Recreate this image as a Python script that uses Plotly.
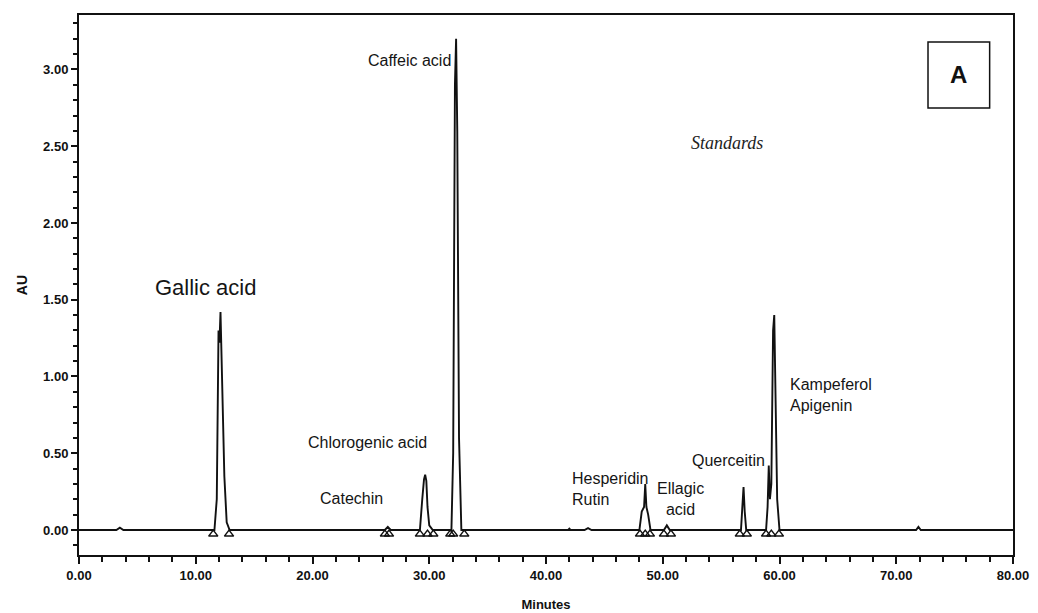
import plotly.graph_objects as go

# Chromatogram trace (retention time in minutes, absorbance in AU)
time_min = [0.0, 3.2, 3.5, 3.8,
            11.6, 11.8, 11.95, 12.03, 12.12, 12.25, 12.45, 12.65, 12.9,
            26.2, 26.45, 26.7,
            29.2, 29.4, 29.55, 29.65, 29.75, 29.85, 30.0, 30.3,
            31.9, 32.05, 32.2, 32.3, 32.4, 32.55, 32.75,
            41.9, 42.0, 42.1, 43.3, 43.6, 43.9,
            48.0, 48.2, 48.4, 48.5, 48.6, 48.75, 48.95,
            50.1, 50.35, 50.6,
            56.7, 56.82, 56.92, 57.02, 57.15,
            58.85, 58.98, 59.08, 59.18, 59.3, 59.45, 59.55, 59.65, 59.8, 60.0,
            71.7, 71.9, 72.1, 80.0]
au = [0.0, 0.0, 0.015, 0.0,
      0.0, 0.2, 1.30, 1.22, 1.42, 1.0, 0.35, 0.05, 0.0,
      0.0, 0.02, 0.0,
      0.0, 0.2, 0.33, 0.36, 0.32, 0.15, 0.03, 0.0,
      0.0, 0.5, 2.9, 3.2, 2.6, 0.6, 0.0,
      0.0, 0.008, 0.0, 0.0, 0.012, 0.0,
      0.0, 0.12, 0.15, 0.30, 0.15, 0.10, 0.0,
      0.0, 0.03, 0.0,
      0.0, 0.15, 0.28, 0.12, 0.0,
      0.0, 0.15, 0.42, 0.2, 0.3, 1.30, 1.40, 0.9, 0.2, 0.0,
      0.0, 0.02, 0.0, 0.0]

# Integration markers (peak start/end)
marker_times = [11.5, 12.85, 26.2, 26.55, 29.2, 29.85, 30.35, 31.8, 32.05, 33.0,
                48.05, 48.5, 48.9, 50.1, 50.7, 56.6, 57.2, 58.85, 59.3, 59.95]
marker_au = [-0.027] * len(marker_times)

# Peak labels: (text, x, y, font size, anchor)
labels = [
    ("Gallic acid", 10.8, 1.58, 22, "center"),
    ("Caffeic acid", 28.35, 3.06, 16, "center"),
    ("Chlorogenic acid", 24.67, 0.567, 16, "center"),
    ("Catechin", 23.3, 0.208, 16, "center"),
    ("Hesperidin<br>Rutin", 42.05, 0.267, 16, "left"),
    ("Ellagic<br>acid", 51.56, 0.205, 16, "center"),
    ("Querceitin", 55.6, 0.45, 16, "center"),
    ("Kampeferol<br>Apigenin", 60.73, 0.88, 16, "left"),
]

x_ticks = [0, 10, 20, 30, 40, 50, 60, 70, 80]
y_ticks = [0.0, 0.5, 1.0, 1.5, 2.0, 2.5, 3.0]

FONT = "Liberation Sans, Arial, sans-serif"

fig = go.Figure()
fig.add_trace(go.Scatter(x=time_min, y=au, mode="lines",
                         line=dict(color="#111111", width=1.9),
                         showlegend=False, hoverinfo="skip"))
fig.add_trace(go.Scatter(x=marker_times, y=marker_au, mode="markers",
                         marker=dict(symbol="triangle-up-open", size=8,
                                     color="#111111", line=dict(width=1.5, color="#111111")),
                         showlegend=False, hoverinfo="skip"))

for text, x, y, size, anchor in labels:
    fig.add_annotation(x=x, y=y, text=text, showarrow=False, align=anchor, xanchor=anchor,
                       font=dict(family=FONT, size=size, color="#151515"))

fig.add_annotation(x=55.5, y=2.52, text="<i>Standards</i>", showarrow=False,
                   font=dict(family="Liberation Serif, Times New Roman, serif", size=18, color="#222222"))

# Panel letter box
fig.add_shape(type="rect", xref="paper", yref="paper", x0=0.909, x1=0.975, y0=0.828, y1=0.95,
              line=dict(color="#111111", width=1.5), fillcolor="white")
fig.add_annotation(xref="paper", yref="paper", x=0.942, y=0.889, xanchor="center", yanchor="middle",
                   text="<b>A</b>", showarrow=False,
                   font=dict(family=FONT, size=24, color="#111111"))

fig.update_layout(
    width=1038, height=613,
    margin=dict(l=79, r=25, t=15, b=58, autoexpand=False),
    paper_bgcolor="white", plot_bgcolor="white",
    font=dict(family=FONT, color="#111111"),
)
fig.update_xaxes(range=[0, 80], tickvals=x_ticks, ticktext=[f"{v:.2f}" for v in x_ticks],
                 automargin=False,
                 showgrid=False, zeroline=False, showline=True, linewidth=2, linecolor="#111111",
                 mirror=True, ticks="outside", ticklen=7, tickwidth=1.5, tickcolor="#111111",
                 tickfont=dict(family=FONT, size=13, color="#111111", weight="bold"),
                 minor=dict(dtick=2, tick0=0, ticks="outside", ticklen=5, tickwidth=1.5, tickcolor="#111111"),
                 title=dict(text="<b>Minutes</b>", font=dict(family=FONT, size=13), standoff=18))
fig.update_yaxes(range=[-0.163, 3.355], tickvals=y_ticks, ticktext=[f"{v:.2f}" for v in y_ticks],
                 automargin=False,
                 showgrid=False, zeroline=False, showline=True, linewidth=2, linecolor="#111111",
                 mirror=True, ticks="outside", ticklen=6, tickwidth=1.5, tickcolor="#111111",
                 tickfont=dict(family=FONT, size=13, color="#111111", weight="bold"),
                 minor=dict(dtick=0.1, tick0=0, ticks="outside", ticklen=4, tickwidth=1.5, tickcolor="#111111"),
                 title=dict(text="<b>AU</b>", font=dict(family=FONT, size=14), standoff=12))

fig.write_html("out.html")
